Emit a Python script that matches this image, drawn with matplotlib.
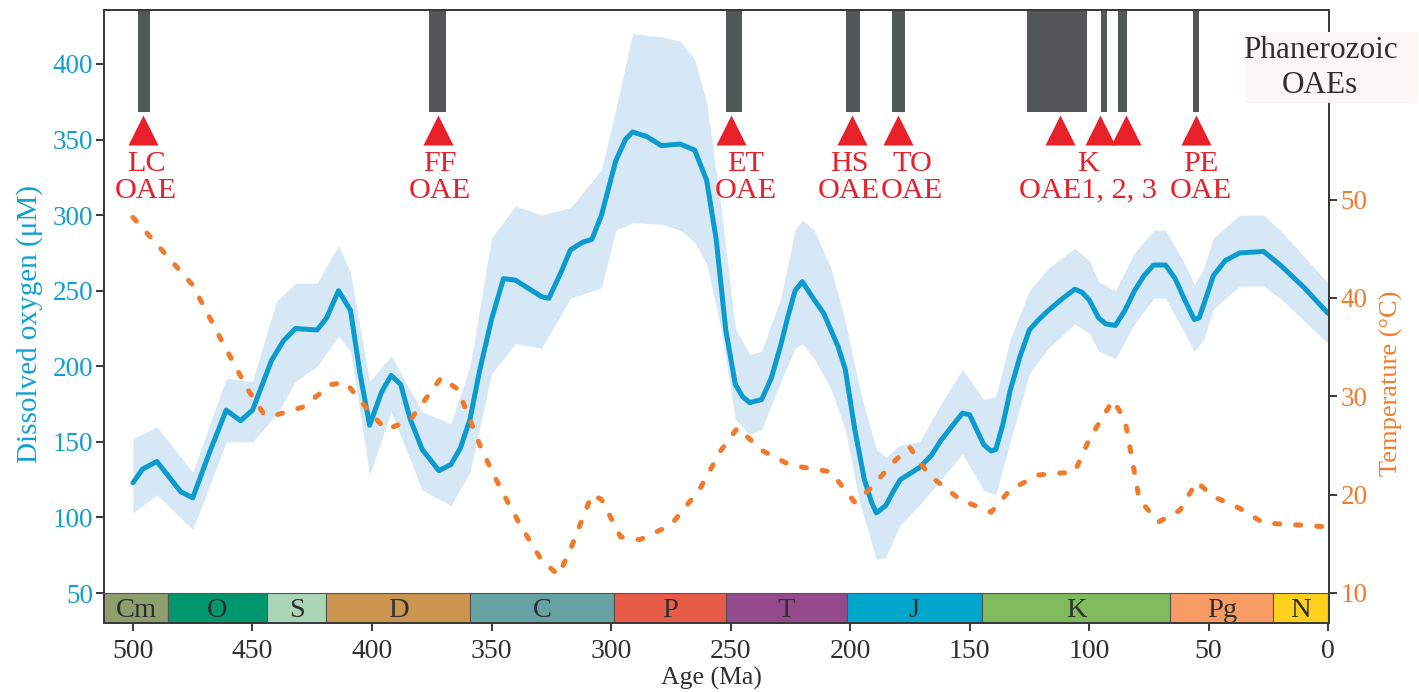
import matplotlib
matplotlib.use("Agg")
import matplotlib.pyplot as plt
from matplotlib.patches import Rectangle

plt.rcParams['font.family'] = ['Liberation Serif', 'DejaVu Serif']

# ---------------- data ----------------
o2_age = [500, 496, 490, 485, 480, 475, 468, 461, 455, 450, 442, 437, 432, 423, 419, 414, 409,
          405, 401, 396, 392, 388, 384, 379, 372, 367, 363, 359, 355, 350, 345, 340, 335, 329,
          326, 321, 317, 312, 308, 304, 301, 298, 294, 291, 285, 279, 271, 265, 260, 256, 252,
          248, 245, 242, 237, 233, 229, 226, 223, 220, 215, 211, 208, 205, 202, 198, 194, 191,
          189, 185, 182, 179, 175, 171, 166, 162, 157, 153, 150, 147, 144, 141, 139, 136, 133,
          129, 125, 121, 117, 111, 106, 103, 100, 96, 93, 89, 85, 81, 77, 73, 68, 64, 60, 56,
          54, 52, 48, 43, 37, 27, 20, 10, 0]
o2_mean = [123, 132, 137, 127, 117, 113, 143, 171, 164, 171, 204, 217, 225, 224, 232, 250, 237,
           195, 161, 183, 194, 188, 165, 145, 131, 135, 146, 165, 197, 231, 258, 257, 252, 246,
           245, 262, 277, 282, 284, 300, 318, 336, 350, 355, 352, 346, 347, 343, 323, 284, 224,
           188, 180, 176, 178, 192, 214, 233, 250, 256, 244, 235, 224, 213, 198, 158, 125, 110,
           103, 108, 117, 125, 129, 133, 141, 151, 161, 169, 168, 158, 148, 144, 145, 162, 184,
           206, 224, 231, 237, 245, 251, 249, 244, 232, 228, 227, 237, 250, 260, 267, 267, 258, 244, 231,
           232, 241, 260, 270, 275, 276, 267, 252, 235]

band_age = [500, 490, 475, 461, 450, 440, 432, 423, 414, 409, 401, 392, 379, 367, 359, 350, 340,
            329, 317, 304, 298, 291, 279, 271, 265, 260, 254, 248, 242, 237, 229, 223, 220, 215,
            208, 202, 196, 189, 185, 179, 171, 162, 153, 144, 139, 133, 125, 117, 106, 100, 96,
            89, 81, 73, 68, 60, 56, 52, 48, 37, 27, 20, 0]
o2_upper = [152, 160, 130, 192, 190, 243, 255, 255, 280, 262, 190, 207, 170, 162, 200, 285, 306,
            300, 305, 330, 370, 420, 418, 415, 403, 375, 305, 225, 208, 210, 245, 290, 297, 290,
            265, 230, 185, 145, 140, 148, 150, 175, 198, 178, 180, 218, 250, 265, 278, 270, 256,
            250, 275, 290, 290, 268, 254, 265, 285, 300, 300, 290, 255]
o2_lower = [103, 115, 92, 150, 150, 168, 190, 200, 220, 210, 128, 170, 118, 108, 130, 195, 215,
            212, 245, 252, 290, 295, 294, 290, 282, 268, 225, 165, 155, 158, 190, 212, 215, 205,
            185, 158, 110, 72, 74, 95, 108, 125, 142, 118, 115, 150, 195, 212, 228, 222, 210,
            205, 228, 245, 245, 222, 210, 218, 238, 253, 253, 245, 215]

temp_age = [500, 488, 475, 463, 452, 445, 440, 429, 417, 411, 400, 394, 384, 371, 364, 354, 346,
            338, 329, 322, 317, 308, 304, 296, 288, 275, 263, 254, 247, 237, 225, 208, 198, 192,
            181, 175, 167, 154, 141, 133, 121, 106, 100, 90, 85, 79, 71, 62, 55, 48, 37, 27, 12, 0]
temp_val = [48.2, 44.9, 41.3, 35.7, 30.7, 28.1, 28.1, 28.9, 31.2, 31.4, 28.1, 26.6, 27.6, 31.9,
            30.7, 24.5, 20.5, 16.9, 13.3, 11.8, 14.4, 20.0, 19.5, 15.7, 15.4, 16.9, 20.5, 24.5,
            26.8, 24.5, 23.0, 22.3, 19.2, 20.5, 23.5, 24.8, 22.0, 19.5, 18.2, 20.5, 22.0, 22.3,
            25.6, 29.6, 27.6, 19.5, 17.2, 18.4, 21.3, 19.8, 18.6, 17.1, 16.9, 16.7]

period_names = ['Cm', 'O', 'S', 'D', 'C', 'P', 'T', 'J', 'K', 'Pg', 'N']
period_start = [541, 485.4, 443.8, 419.2, 358.9, 298.9, 251.9, 201.3, 145.0, 66.0, 23.0]
period_end = [485.4, 443.8, 419.2, 358.9, 298.9, 251.9, 201.3, 145.0, 66.0, 23.0, 0.0]
period_colors = ['#8c9f6c', '#00976f', '#a9d7b6', '#cb9550', '#67a3a2', '#e85b48',
                 '#944a8c', '#00a7cd', '#80bb5e', '#f89b64', '#fcd11b']

oae_bar_start = [498.0, 376.0, 252.0, 201.6, 182.3, 126.0, 95.0, 88.0, 56.6]
oae_bar_end = [493.0, 369.0, 245.4, 195.7, 177.0, 100.7, 92.5, 84.3, 54.1]
oae_triangles = [495.8, 372.4, 249.6, 199.0, 180.0, 112.3, 95.6, 84.4, 55.2]
oae_labels = ['LC\nOAE', 'FF\nOAE', 'ET\nOAE', 'HS\nOAE', 'TO\nOAE', 'K\nOAE1, 2, 3', 'PE\nOAE']
oae_label_age = [494.5, 371.6, 243.5, 200.3, 174.0, 100.6, 53.4]

x_ticks = [500, 450, 400, 350, 300, 250, 200, 150, 100, 50, 0]
o2_ticks = [50, 100, 150, 200, 250, 300, 350, 400]
temp_ticks = [10, 20, 30, 40, 50]

# ---------------- style ----------------
BLUE = '#0b9bcf'
BAND = '#d6e8f5'
ORANGE = '#f27b2b'
RED = '#e8202a'
GRAY = '#535757'
SPINE = '#3a3a3a'

W, H = 1419, 692
fig = plt.figure(figsize=(W / 100, H / 100), dpi=100)
L, R, T, B = 104.3, 1329.3, 10.0, 623.3
ax = fig.add_axes([L / W, 1 - B / H, (R - L) / W, (B - T) / H])
ax2 = ax.twinx()

ax.set_xlim(512, -0.5)
ax.set_ylim(30, 435.7)
ax2.set_ylim(6.9, 69.3)

# oxygen band + mean
ax.fill_between(band_age, o2_lower, o2_upper, color=BAND, lw=0, zorder=1)
ax.plot(o2_age, o2_mean, color=BLUE, lw=3.6, solid_capstyle='round', solid_joinstyle='round', zorder=3)

# geological time-scale bar
for name, s, e, c in zip(period_names, period_start, period_end, period_colors):
    ax.bar((s + e) / 2, 20.2, width=s - e, bottom=30, color=c, edgecolor='#555555',
           linewidth=0.8, zorder=4)
    xs = min(s, 512)
    ax.text((xs + e) / 2, 34.0, name, ha='center', va='baseline', fontsize=20.5,
            color='#2f2f2f', zorder=5)

# OAE bars, triangles and labels
for s, e in zip(oae_bar_start, oae_bar_end):
    ax.bar((s + e) / 2, 100, width=s - e, bottom=368.5, color=GRAY, lw=0, zorder=4)
ax.plot(oae_triangles, [356.3] * len(oae_triangles), '^', ms=21, color=RED, mec='none', zorder=5)
for lab, a in zip(oae_labels, oae_label_age):
    ax.text(a, 342.3, lab, ha='center', va='top', fontsize=21.8, color=RED,
            linespacing=1.02, multialignment='center', zorder=5)

# temperature
ax2.plot(temp_age, temp_val, color=ORANGE, lw=3.6, linestyle=(0, (1.0, 3.2)),
         dash_capstyle='round', zorder=3)

# axes styling
ax.set_xticks(x_ticks)
ax.set_xticklabels([str(t) for t in x_ticks])
ax.set_yticks(o2_ticks)
ax2.set_yticks(temp_ticks)
for a in (ax, ax2):
    for sp in a.spines.values():
        sp.set_color(SPINE)
        sp.set_linewidth(1.4)
ax.tick_params(axis='x', direction='out', length=6, width=1.4, color=SPINE,
               labelsize=20, labelcolor='#2f2f2f', pad=5)
ax.tick_params(axis='y', direction='out', length=6, width=1.4, color=SPINE,
               labelsize=19.5, labelcolor='#119fd2', pad=2)
ax2.tick_params(axis='y', direction='out', length=6, width=1.4, color=SPINE,
                labelsize=19.5, labelcolor=ORANGE, pad=2)

ax.set_xlabel('Age (Ma)', fontsize=18.5, color='#2f2f2f')
ax.xaxis.set_label_coords(0.496, -0.071)
ax.set_ylabel('Dissolved oxygen (\u03bcM)', fontsize=21, color='#119fd2')
ax.yaxis.set_label_coords(-0.050, 0.488)
ax2.set_ylabel('Temperature (\u00b0C)', fontsize=19, color=ORANGE)
ax2.yaxis.set_label_coords(1.0414, 0.392)

# Phanerozoic OAEs box
fig.patches.append(Rectangle((1245 / W, 1 - 103 / H), (1418 - 1245) / W, (103 - 31.7) / H,
                             transform=fig.transFigure, facecolor='#fcf6f5', edgecolor='none',
                             zorder=5))
fig.text(1320 / W, 1 - 68 / H, 'Phanerozoic\nOAEs', ha='center', va='center', fontsize=22.5,
         color='#2f2f2f', linespacing=1.25, zorder=6)

fig.savefig('out.png', dpi=100)
